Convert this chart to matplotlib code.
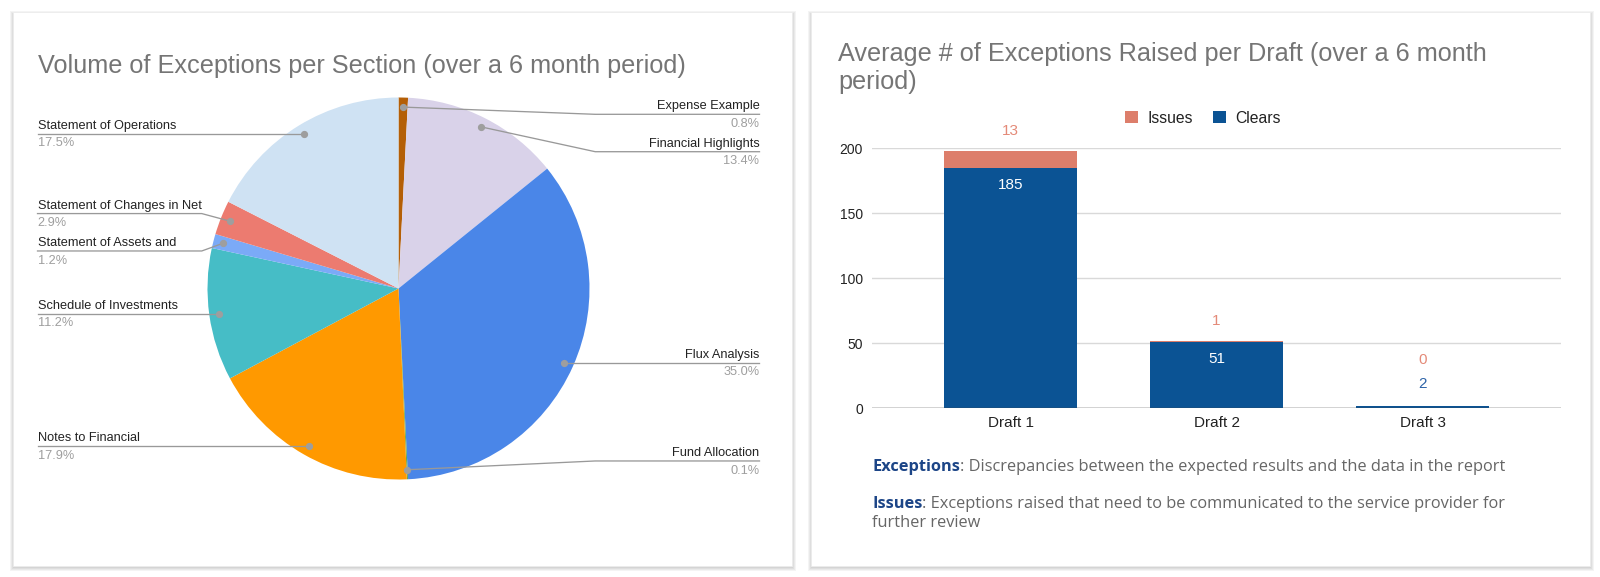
import numpy as np
import matplotlib
matplotlib.use('Agg')
import matplotlib.pyplot as plt
from matplotlib.patches import Rectangle

plt.rcParams['font.family'] = ['Liberation Sans', 'DejaVu Sans']

# pie data (clockwise from 12 o'clock)
sections = ['Expense Example', 'Financial Highlights', 'Flux Analysis', 'Fund Allocation',
            'Notes to Financial', 'Schedule of Investments', 'Statement of Assets and',
            'Statement of Changes in Net', 'Statement of Operations']
section_pct = [0.8, 13.4, 35.0, 0.1, 17.9, 11.2, 1.2, 2.9, 17.5]
section_colors = ['#b45f06', '#d9d2e9', '#4a86e8', '#6aa84f', '#ff9900',
                  '#46bdc6', '#7baaf7', '#ec7b70', '#cfe2f3']

# bar data
drafts = ['Draft 1', 'Draft 2', 'Draft 3']
clears = [185, 51, 2]
issues = [13, 1, 0]

W, H = 1600, 577
fig = plt.figure(figsize=(16, 5.77), dpi=100)


def box(x0, y0, x1, y1):
    # pixel box, top-left origin -> figure fraction rect
    return [x0 / W, 1 - y1 / H, (x1 - x0) / W, (y1 - y0) / H]


# cards with a soft shadow
bg = fig.add_axes([0, 0, 1, 1])
bg.set_xlim(0, W)
bg.set_ylim(H, 0)
bg.axis('off')
for x0, x1 in [(13, 792), (811, 1590)]:
    y0, y1 = 12, 566
    for d in [4, 3, 2, 1]:
        bg.add_patch(Rectangle((x0 - d + 1, y0 - d + 3), x1 - x0 + 2 * d - 1, y1 - y0 + 2 * d - 2,
                               facecolor='black', edgecolor='none', alpha=0.045))
    bg.add_patch(Rectangle((x0, y0), x1 - x0, y1 - y0, facecolor='white',
                           edgecolor='#ececec', lw=0.6))

# ---------------- pie ----------------
R = 191
CX, CY = 398.5, 288.5
pax = fig.add_axes(box(CX - 2.05 * R, CY - 1.2 * R, CX + 2.05 * R, CY + 1.2 * R))
wedges, _ = pax.pie(section_pct, colors=section_colors, startangle=90, counterclock=False,
                    radius=1, wedgeprops=dict(linewidth=0))
pax.set_aspect('auto')
pax.set_xlim(-2.05, 2.05)
pax.set_ylim(-1.2, 1.2)
pax.axis('off')


def spread(ys, gap, lo, hi):
    ys = list(ys)
    for _ in range(60):
        for i in range(len(ys) - 1):
            d = ys[i] - ys[i + 1]
            if d < gap:
                m = (gap - d) / 2
                ys[i] += m
                ys[i + 1] -= m
        ys = [min(max(y, lo), hi) for y in ys]
    return ys


dots = []
for w in wedges:
    a = np.deg2rad((w.theta1 + w.theta2) / 2)
    dots.append((0.95 * np.cos(a), 0.95 * np.sin(a)))

for side in [1, -1]:
    idx = [i for i, (dx, dy) in enumerate(dots) if np.sign(dx) == side or (dx == 0 and side == 1)]
    idx.sort(key=lambda i: -dots[i][1])
    ly = spread([dots[i][1] for i in idx], 37.4 / R, -0.903, 0.912)
    tx = 1.89 * side
    kx = 1.03 * side
    for i, y in zip(idx, ly):
        dx, dy = dots[i]
        pax.plot([tx, kx, dx], [y, y, dy], color='#999999', lw=0.95, solid_joinstyle='round')
        pax.plot(dx, dy, 'o', ms=4.2, color='#9e9e9e')
        ha = 'right' if side == 1 else 'left'
        pax.text(tx, y + 2 / R, sections[i], ha=ha, va='bottom', fontsize=9.2, color='#222222')
        pax.text(tx, y - 3.6 / R, f'{section_pct[i]:.1f}%', ha=ha, va='top',
                 fontsize=9.2, color='#9e9e9e')

fig.text(38 / W, 1 - 73 / H, 'Volume of Exceptions per Section (over a 6 month period)',
         fontsize=18.2, color='#757575', va='baseline')

# ---------------- bars ----------------
bax = fig.add_axes(box(871.7, 148.3, 1561.4, 408.3))
x = np.arange(len(drafts))
bw = 0.645
hc = bax.bar(x, clears, bw, color='#0b5394', zorder=2)
hi = bax.bar(x, issues, bw, bottom=clears, color='#dd7e6b', zorder=2)
bax.set_xlim(-0.674, 2.674)
bax.set_ylim(0, 200)
bax.set_yticks([0, 50, 100, 150, 200])
bax.set_xticks(x)
bax.set_xticklabels(drafts)
bax.yaxis.grid(True, color='#d9d9d9', lw=1)
bax.set_axisbelow(True)
for s in bax.spines.values():
    s.set_visible(False)
bax.axhline(0, color='#444444', lw=1, zorder=3)
bax.tick_params(axis='both', length=0, colors='#222222')
bax.tick_params(axis='y', labelsize=10, pad=6.3)
bax.tick_params(axis='x', labelsize=11, pad=5.8)

px2pt = 0.72
for i in range(len(drafts)):
    c, s = clears[i], issues[i]
    if c / 200 * 260 > 30:
        bax.annotate(str(c), (i, c), xytext=(0, -17 * px2pt), textcoords='offset points',
                     ha='center', va='center', color='white', fontsize=11)
        off = 20
    else:
        bax.annotate(str(c), (i, c), xytext=(0, 22 * px2pt), textcoords='offset points',
                     ha='center', va='center', color='#2e64a8', fontsize=11)
        off = 46
    bax.annotate(str(s), (i, c + s), xytext=(0, off * px2pt), textcoords='offset points',
                 ha='center', va='center', color='#e48a78', fontsize=11)

fig.legend([hi, hc], ['Issues', 'Clears'], loc='center', bbox_to_anchor=(1203 / W, 1 - 118 / H),
           ncol=2, frameon=False, fontsize=11.3, handlelength=0.8, handleheight=0.8,
           handletextpad=0.6, columnspacing=1.3, labelcolor='#222222')

fig.text(838 / W, 1 - 60.5 / H, 'Average # of Exceptions Raised per Draft (over a 6 month',
         fontsize=18.2, color='#757575', va='baseline')
fig.text(838 / W, 1 - 88.6 / H, 'period)', fontsize=18.2, color='#757575', va='baseline')

# footnotes
fn = dict(fontsize=11.8, family=['Open Sans', 'DejaVu Sans'])
notes = [('Exceptions', ': Discrepancies between the expected results and the data in the report', 467),
         ('Issues', ': Exceptions raised that need to be communicated to the service provider for', 504)]
for head, rest, y in notes:
    t = fig.text(872 / W, 1 - y / H, head, weight='bold', color='#1c4587', va='center', **fn)
    bax.annotate(rest, xy=(1, 0), xycoords=t, va='bottom', ha='left', color='#666666', **fn)
fig.text(872 / W, 1 - 523 / H, 'further review', color='#666666', va='center', **fn)

fig.savefig('out.png', dpi=100)
